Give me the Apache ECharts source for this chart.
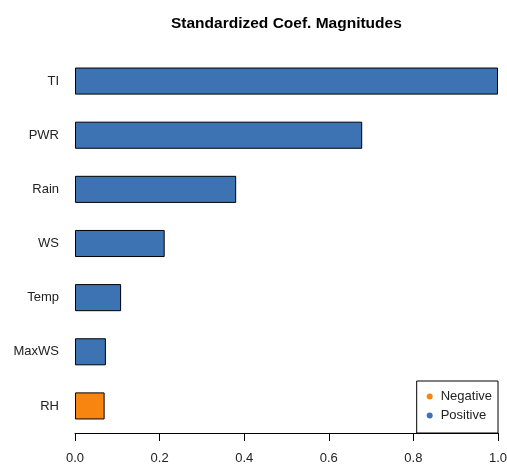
<!DOCTYPE html>
<html>
<head>
<meta charset="utf-8">
<script src="https://cdn.jsdelivr.net/npm/echarts@6/dist/echarts.min.js"></script>
<style>
  html, body { margin: 0; padding: 0; background: #fff; }
  #chart { width: 507px; height: 466px; }
</style>
</head>
<body>
<div id="chart"></div>
<script>
  // variables, bottom to top as drawn
  var categories = ['RH', 'MaxWS', 'Temp', 'WS', 'Rain', 'PWR', 'TI'];
  var magnitudes = [0.070, 0.073, 0.109, 0.212, 0.381, 0.679, 1.0];
  var signs = ['Negative', 'Positive', 'Positive', 'Positive', 'Positive', 'Positive', 'Positive'];
  var xTicks = [0, 0.2, 0.4, 0.6, 0.8, 1.0];

  var colors = { Negative: '#F8850F', Positive: '#3E73B3' };

  function pick(sign) {
    return magnitudes.map(function (v, i) { return signs[i] === sign ? v : '-'; });
  }

  var chart = echarts.init(document.getElementById('chart'));
  chart.setOption({
    animation: false,
    textStyle: { fontFamily: 'Liberation Sans, Arial, sans-serif' },
    title: {
      text: 'Standardized Coef. Magnitudes',
      left: 171,
      top: 16,
      padding: 0,
      textStyle: { fontSize: 15.5, fontWeight: 'bold', color: '#000' }
    },
    grid: { left: 75, right: 9, top: 54, bottom: 33, outerBoundsMode: 'none', containLabel: false },
    legend: {
      orient: 'vertical',
      right: 9,
      bottom: 33,
      data: ['Negative', 'Positive'],
      icon: 'circle',
      itemWidth: 6,
      itemHeight: 6,
      itemGap: 6,
      padding: [9, 6, 11, 10],
      borderColor: '#000',
      borderWidth: 1,
      borderRadius: 0,
      itemStyle: { borderWidth: 0 },
      textStyle: { fontSize: 13, color: '#222', padding: [0, 0, 0, 3], lineHeight: 12 }
    },
    xAxis: {
      type: 'value',
      min: 0,
      max: 1,
      interval: 0.2,
      axisLine: { show: true, lineStyle: { color: '#000' } },
      axisTick: { show: true, length: 8, inside: false, lineStyle: { color: '#000' } },
      splitLine: { show: false },
      axisLabel: {
        fontSize: 13, color: '#222', margin: 19,
        formatter: function (v) {
          var t = xTicks.filter(function (k) { return Math.abs(k - v) < 1e-9; });
          return t.length ? t[0].toFixed(1) : '';
        }
      }
    },
    yAxis: {
      type: 'category',
      data: categories,
      axisLine: { show: false },
      axisTick: { show: false },
      axisLabel: { fontSize: 13, color: '#222', margin: 16 }
    },
    series: ['Negative', 'Positive'].map(function (s) {
      return {
        name: s,
        type: 'bar',
        stack: 'mag',
        barWidth: '50%',
        data: pick(s),
        itemStyle: { color: colors[s], borderColor: '#000', borderWidth: 1 }
      };
    })
  });
</script>
</body>
</html>
